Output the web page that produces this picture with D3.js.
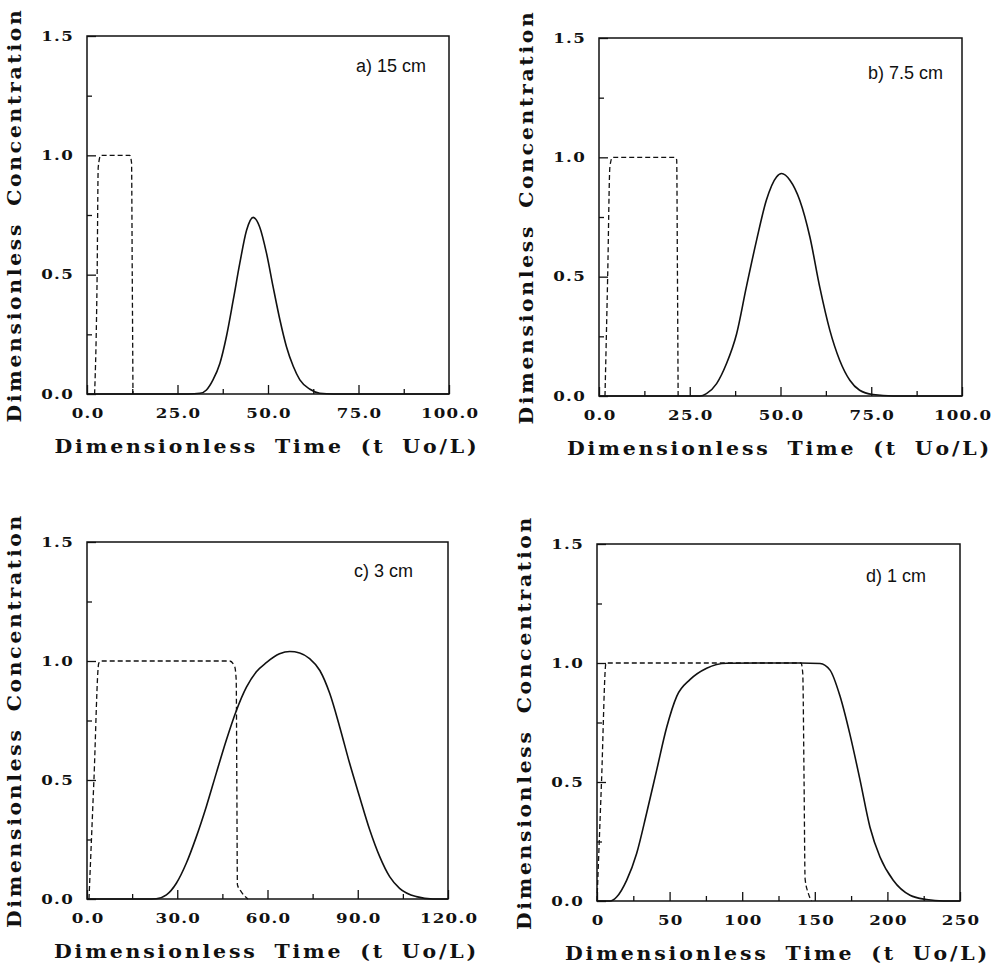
<!DOCTYPE html>
<html>
<head>
<meta charset="utf-8">
<script src="https://cdn.jsdelivr.net/npm/d3@7"></script>
<style>
  body { margin: 0; background: #fff; }
  svg { display: block; }
</style>
</head>
<body>
<script>
// panel texts
const panelLabels = ["a) 15 cm", "b) 7.5 cm", "c) 3 cm", "d) 1 cm"];
const xMaxValues = [100, 100, 120, 250];
const xMajorTicks = [
    [0, 25, 50, 75, 100],
    [0, 25, 50, 75, 100],
    [0, 30, 60, 90, 120],
    [0, 50, 100, 150, 200, 250]
];
const xTickFormats = [".1f", ".1f", ".1f", "d"];
const yMajorTicks = [0, 0.5, 1.0, 1.5];
const yMinorTicks = [0.25, 0.75, 1.25];

// inlet pulse (dashed) — [time, concentration]
const inletA = [[2.1, 0], [2.8, 0.5], [3.1, 0.95], [3.8, 1.0], [11.8, 1.0], [12.3, 0.97], [12.5, 0.5], [12.7, 0]];
const inletB = [[1.65, 0], [2.4, 0.51], [3.0, 0.96], [3.7, 1.0], [20.9, 1.0], [21.4, 0.99], [21.6, 0.54], [21.8, 0]];
const inletC = [[0.66, 0], [2.3, 0.5], [3.9, 0.99], [4.6, 1.0], [47.4, 1.0], [49.1, 0.976], [49.6, 0.92], [49.8, 0.5], [50.0, 0.06], [51.3, 0.03], [53.5, 0]];
const inletD = [[0, 0], [3.1, 0.5], [6.2, 1.0], [140.5, 1.0], [141.7, 0.957], [142.6, 0.508], [143.3, 0.094], [145.6, 0.031], [147.8, 0]];

// outlet breakthrough (solid)
const outletA = [[0, 0], [28, 0], [31.2, 0.003], [33, 0.017], [34.8, 0.059], [36.7, 0.128], [38.5, 0.24], [40.4, 0.394],
    [42.2, 0.547], [44.1, 0.687], [45.9, 0.74], [47.7, 0.70], [49.6, 0.589], [51.4, 0.45], [53.3, 0.31],
    [55.1, 0.198], [57, 0.115], [58.8, 0.059], [61.6, 0.02], [64.3, 0.003], [68, 0], [100, 0]];
const outletB = [[0, 0], [25, 0], [27.8, 0], [29.6, 0.01], [32.4, 0.052], [35.1, 0.135], [37.9, 0.26], [40.6, 0.457],
    [43.4, 0.652], [46.1, 0.82], [48.9, 0.918], [50.3, 0.932], [52.6, 0.904], [55.3, 0.82], [58.1, 0.666],
    [60.8, 0.457], [63.6, 0.275], [66.3, 0.15], [69.1, 0.066], [71.8, 0.024], [75.5, 0.006], [81, 0], [100, 0]];
const outletC = [[0, 0], [20, 0], [23, 0.001], [26.4, 0.017], [29.7, 0.066], [33, 0.15], [36.3, 0.26], [39.7, 0.39],
    [43, 0.53], [46.3, 0.667], [49.6, 0.79], [53, 0.89], [56.3, 0.955], [59.6, 0.993], [64, 1.03],
    [67.4, 1.04], [70.7, 1.034], [74, 1.01], [77.4, 0.96], [80.7, 0.863], [84, 0.723], [87.3, 0.57],
    [90.6, 0.43], [94, 0.29], [97.3, 0.178], [100.6, 0.094], [103.9, 0.045], [109.5, 0.01], [115, 0], [120, 0]];
const outletD = [[0, 0], [9, 0], [13.5, 0.017], [20.4, 0.087], [27.3, 0.2], [34.2, 0.37], [41.1, 0.55], [48, 0.73],
    [54.9, 0.86], [64, 0.93], [75.5, 0.978], [89.3, 0.999], [110, 1.0], [140, 1.0], [153.6, 0.998],
    [160.5, 0.97], [167.4, 0.86], [174.2, 0.70], [181.1, 0.51], [188, 0.31], [194.9, 0.185], [204, 0.087],
    [215.6, 0.024], [227, 0.006], [238.5, 0], [250, 0]];

const inletSeries = [inletA, inletB, inletC, inletD];
const outletSeries = [outletA, outletB, outletC, outletD];

const xTitle = "Dimensionless Time (t Uo/L)";
const yTitle = "Dimensionless Concentration";

// layout of the 4 plot boxes
const layout = [
    {x: 87, y: 36, w: 362, h: 358, lx: -23, ly: 36},
    {x: 599, y: 38, w: 363, h: 358, lx: -19, ly: 41},
    {x: 87, y: 542, w: 361, h: 357, lx: -35, ly: 35},
    {x: 597, y: 544, w: 363, h: 357, lx: -34, ly: 38}
];

const serif = "'DejaVu Serif', serif";
const ink = "#111";
const stretch = 1.28; // the scanned lettering is wide

let svg = d3.select("body").append("svg")
    .attr("width", 1001)
    .attr("height", 967);

function drawPanel(i) {
    const b = layout[i];
    const g = svg.append("g");

    const scX = d3.scaleLinear().domain([0, xMaxValues[i]]).range([b.x, b.x + b.w]);
    const scY = d3.scaleLinear().domain([0, 1.5]).range([b.y + b.h, b.y]);

    // ticks pointing inward
    const step = xMajorTicks[i][1] - xMajorTicks[i][0];
    const xMinor = d3.range(step / 2, xMaxValues[i], step);

    const axX = g.append("g")
        .attr("transform", `translate(0, ${b.y + b.h})`)
        .call(d3.axisBottom(scX).tickValues(xMajorTicks[i])
            .tickFormat(d3.format(xTickFormats[i]))
            .tickSizeInner(-9).tickSizeOuter(0).tickPadding(14));
    g.append("g")
        .attr("transform", `translate(0, ${b.y + b.h})`)
        .call(d3.axisBottom(scX).tickValues(xMinor).tickFormat("")
            .tickSizeInner(-5).tickSizeOuter(0));

    const axY = g.append("g")
        .attr("transform", `translate(${b.x}, 0)`)
        .call(d3.axisLeft(scY).tickValues(yMajorTicks)
            .tickFormat(d3.format(".1f"))
            .tickSizeInner(-9).tickSizeOuter(0).tickPadding(11));
    g.append("g")
        .attr("transform", `translate(${b.x}, 0)`)
        .call(d3.axisLeft(scY).tickValues(yMinorTicks).tickFormat("")
            .tickSizeInner(-5).tickSizeOuter(0));

    g.selectAll(".domain").remove();
    g.selectAll(".tick line").attr("stroke", ink).attr("stroke-width", 1.3);
    g.selectAll(".tick text")
        .attr("fill", ink)
        .style("font-family", serif)
        .style("font-weight", "bold")
        .style("font-size", "13px")
        .style("letter-spacing", "1px");
    axX.selectAll(".tick text")
        .attr("y", 24)
        .attr("dy", null)
        .attr("dx", "0.5px")
        .attr("transform", `scale(${stretch},1)`);
    axY.selectAll(".tick text")
        .attr("x", (-14 + 1) / stretch)
        .attr("transform", `scale(${stretch},1)`);

    // frame
    g.append("rect")
        .attr("x", b.x).attr("y", b.y)
        .attr("width", b.w).attr("height", b.h)
        .attr("fill", "none")
        .attr("stroke", ink)
        .attr("stroke-width", 1.5);

    const line = d3.line()
        .x(d => scX(d[0]))
        .y(d => scY(d[1]))
        .curve(d3.curveMonotoneX);

    g.append("path")
        .datum(inletSeries[i])
        .attr("d", line)
        .attr("fill", "none")
        .attr("stroke", ink)
        .attr("stroke-width", 1.3)
        .attr("stroke-dasharray", "5,3");

    g.append("path")
        .datum(outletSeries[i])
        .attr("d", line)
        .attr("fill", "none")
        .attr("stroke", ink)
        .attr("stroke-width", 1.6);

    // panel label
    g.append("text")
        .attr("x", b.x + b.w + b.lx)
        .attr("y", b.y + b.ly)
        .attr("text-anchor", "end")
        .attr("fill", ink)
        .style("font-family", "'Liberation Sans', Arial, sans-serif")
        .style("font-size", "18px")
        .text(panelLabels[i]);

    // axis titles
    g.append("text")
        .attr("x", b.x + b.w / 2 - 1)
        .attr("y", b.y + b.h + 59)
        .attr("text-anchor", "middle")
        .attr("textLength", 425)
        .attr("lengthAdjust", "spacingAndGlyphs")
        .attr("fill", ink)
        .style("font-family", serif)
        .style("font-weight", "bold")
        .style("font-size", "18px")
        .style("letter-spacing", "2.5px")
        .style("word-spacing", "6px")
        .text(xTitle);

    g.append("text")
        .attr("transform", `translate(${b.x - 66}, ${b.y + b.h / 2}) rotate(-90)`)
        .attr("text-anchor", "middle")
        .attr("textLength", 415)
        .attr("lengthAdjust", "spacingAndGlyphs")
        .attr("fill", ink)
        .style("font-family", serif)
        .style("font-weight", "bold")
        .style("font-size", "19px")
        .style("letter-spacing", "2.5px")
        .style("word-spacing", "6px")
        .text(yTitle);
}

d3.range(4).forEach(drawPanel);
</script>
</body>
</html>
